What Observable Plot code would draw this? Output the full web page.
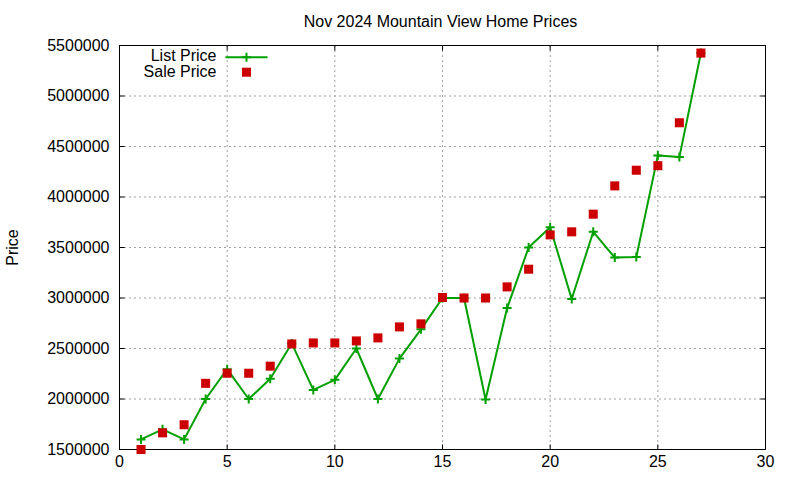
<!DOCTYPE html>
<html>
<head>
<meta charset="utf-8">
<script src="https://cdn.jsdelivr.net/npm/d3@7"></script>
<script src="https://cdn.jsdelivr.net/npm/@observablehq/plot@0.6"></script>
<style>
  html, body { margin: 0; padding: 0; background: #fff; }
</style>
</head>
<body>
<div id="chart"></div>
<script>
const titleText = "Nov 2024 Mountain View Home Prices";
const yLabel = "Price";
const legendLabels = ["List Price", "Sale Price"];
const days = [1,2,3,4,5,6,7,8,9,10,11,12,13,14,15,16,17,18,19,20,21,22,23,24,25,26,27];
const listPrice = [1600000,1700000,1600000,2000000,2295000,2000000,2200000,2550000,2090000,2190000,2500000,2000000,2400000,2690000,3000000,3000000,1995000,2900000,3500000,3700000,2990000,3655000,3400000,3405000,4410000,4395000,5425000];
const salePrice = [1500000,1665000,1745000,2155000,2255000,2255000,2325000,2545000,2555000,2555000,2575000,2605000,2714000,2744000,3005000,3000000,3000000,3110000,3285000,3625000,3655000,3830000,4110000,4265000,4310000,4735000,5425000];
const xTicks = [0,5,10,15,20,25,30];
const yTicks = [1500000,2000000,2500000,3000000,3500000,4000000,4500000,5000000,5500000];
const xGrid = [5,10,15,20,25];
const yGrid = [2000000,2500000,3000000,3500000,4000000,4500000,5000000];

const green = "#00a000";
const red = "#cc0000";

const listData = days.map((d, i) => ({x: d, y: listPrice[i]}));
const saleData = days.map((d, i) => ({x: d, y: salePrice[i]}));

const T = 5; // inward tick length
const P = 4.5; // plus half-size
const tickRight = {draw(c) { c.moveTo(0, 0); c.lineTo(T, 0); }};
const tickLeft = {draw(c) { c.moveTo(0, 0); c.lineTo(-T, 0); }};
const tickUp = {draw(c) { c.moveTo(0, 0); c.lineTo(0, -T); }};
const tickDown = {draw(c) { c.moveTo(0, 0); c.lineTo(0, T); }};
const plusSym = {draw(c) { c.moveTo(-P, 0); c.lineTo(P, 0); c.moveTo(0, -P); c.lineTo(0, P); }};
const legendLine = {draw(c) { c.moveTo(-21, 0); c.lineTo(21, 0); }};

const chart = Plot.plot({
  width: 800,
  height: 480,
  marginLeft: 119,
  marginRight: 35,
  marginTop: 45,
  marginBottom: 31,
  style: {fontFamily: "'Liberation Sans', Arial, sans-serif", fontSize: "16px", background: "#fff", color: "#000"},
  x: {domain: [0, 30], ticks: xTicks, tickSize: 0, tickPadding: 6, label: null},
  y: {domain: [1500000, 5500000], ticks: yTicks, tickSize: 0, tickPadding: 10, tickFormat: d3.format("d"), label: null},
  marks: [
    Plot.ruleX(xGrid, {stroke: "#a0a0a0", strokeDasharray: "2,3", strokeWidth: 1}),
    Plot.ruleY(yGrid, {stroke: "#a0a0a0", strokeDasharray: "2,3", strokeWidth: 1}),
    Plot.dot(yTicks, {x: 0, y: d => d, symbol: tickRight, stroke: "black", strokeWidth: 1, r: 3}),
    Plot.dot(yTicks, {x: 30, y: d => d, symbol: tickLeft, stroke: "black", strokeWidth: 1, r: 3}),
    Plot.dot(xTicks, {x: d => d, y: 1500000, symbol: tickUp, stroke: "black", strokeWidth: 1, r: 3}),
    Plot.dot(xTicks, {x: d => d, y: 5500000, symbol: tickDown, stroke: "black", strokeWidth: 1, r: 3}),
    Plot.frame({stroke: "black", strokeWidth: 1}),
    Plot.line(listData, {x: "x", y: "y", stroke: green, strokeWidth: 2}),
    Plot.dot(listData, {x: "x", y: "y", symbol: plusSym, stroke: green, strokeWidth: 2, r: 3}),
    Plot.dot(saleData, {x: "x", y: "y", symbol: "square", fill: red, stroke: "none", r: 5.1}),
    // title
    Plot.text([titleText], {frameAnchor: "top", lineAnchor: "middle", dy: -24, dx: -2, text: d => d, fontSize: 16, fill: "black"}),
    // y label
    Plot.text([yLabel], {frameAnchor: "left", lineAnchor: "middle", textAnchor: "middle", dx: -107, rotate: -90, text: d => d, fontSize: 16, fill: "black"}),
    // legend
    Plot.text([legendLabels[0]], {frameAnchor: "top-left", lineAnchor: "middle", dx: 97, dy: 10.5, text: d => d, textAnchor: "end", fontSize: 16, fill: "black"}),
    Plot.text([legendLabels[1]], {frameAnchor: "top-left", lineAnchor: "middle", dx: 97, dy: 26, text: d => d, textAnchor: "end", fontSize: 16, fill: "black"}),
    Plot.dot([legendLabels[0]], {frameAnchor: "top-left", dx: 127, dy: 11.7, symbol: legendLine, stroke: green, strokeWidth: 2, r: 3}),
    Plot.dot([legendLabels[0]], {frameAnchor: "top-left", dx: 127, dy: 11.7, symbol: plusSym, stroke: green, strokeWidth: 2, r: 3}),
    Plot.dot([legendLabels[1]], {frameAnchor: "top-left", dx: 127, dy: 26.7, symbol: "square", fill: red, stroke: "none", r: 5.1})
  ]
});
document.getElementById("chart").appendChild(chart);
</script>
</body>
</html>
